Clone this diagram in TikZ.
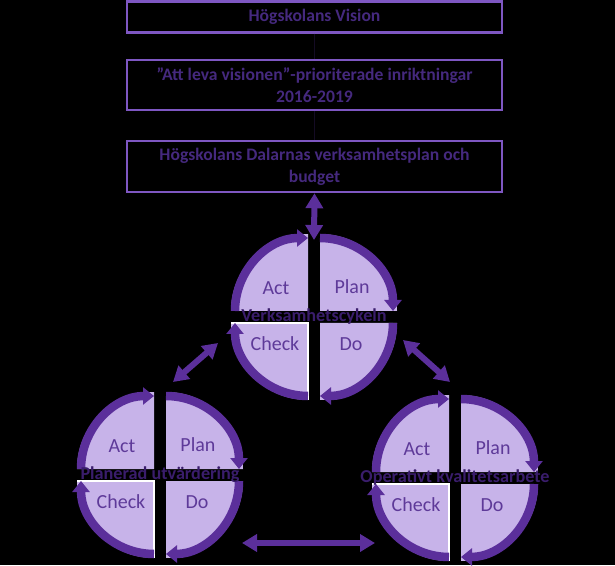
\documentclass[tikz,border=0pt]{standalone}
\usepackage{fontspec}
\setmainfont{Carlito}
\usepackage{tikz}
\usetikzlibrary{calc,arrows.meta}
\definecolor{boxline}{HTML}{7E57C2}
\definecolor{boxtext}{HTML}{45297E}
\definecolor{cyclearc}{HTML}{5B2F9B}
\definecolor{quadfill}{HTML}{C7B3E9}
\definecolor{quadtext}{HTML}{5E3A99}
\definecolor{cyclename}{HTML}{3A1D6C}
\definecolor{faint}{HTML}{140B24}

\begin{document}
\begin{tikzpicture}[x=1pt,y=1pt,
  box/.style={draw=boxline,line width=2.5pt,minimum width=375pt,inner sep=0pt,align=center,
    text=boxtext,font=\bfseries\fontsize{17.6}{22}\selectfont},
  band/.style={draw=cyclearc,line width=8.5pt,-{Triangle[width=17pt,length=11pt]}},
  link/.style={draw=cyclearc,line width=6pt,
    {Triangle[width=17pt,length=15pt]}-{Triangle[width=17pt,length=15pt]}},
  quadlabel/.style={text=quadtext,font=\fontsize{20}{24}\selectfont},
  cyclelabel/.style={text=cyclename,font=\bfseries\fontsize{18.2}{21}\selectfont,inner sep=0pt}]
\useasboundingbox (0,0) rectangle (615,565);
\fill[black] (0,0) rectangle (615,565);
% the three boxes on top
\node[box,minimum height=31pt] (vision) at (314.5,548) {Högskolans Vision};
\node[box,minimum height=50pt] (prio) at (314.5,480) {”Att leva visionen”-prioriterade inriktningar\\2016-2019};
\node[box,minimum height=51pt] (budget) at (314.5,398.5) {Högskolans Dalarnas verksamhetsplan och\\budget};
\draw[faint,line width=1.5pt] (vision) -- (prio);
\draw[faint,line width=1.5pt] (prio) -- (budget);
% centres of the three cycles
\coordinate (vc) at (314,248);
\coordinate (pu) at (160,90);
\coordinate (ok) at (455,87);
\foreach \c/\t in {vc/Verksamhetscykeln,pu/Planerad utvärdering,ok/Operativt kvalitetsarbete}{
  \fill[quadfill] ($(\c)+(-6,6)$) -- ++(-77,0) arc (180:90:77) -- cycle;
  \fill[quadfill] ($(\c)+(6,6)$) -- ++(0,77) arc (90:0:77) -- cycle;
  \fill[quadfill] ($(\c)+(6,-6)$) -- ++(77,0) arc (0:-90:77) -- cycle;
  \fill[quadfill] ($(\c)+(-6,-6)$) -- ++(0,-77) arc (-90:-180:77) -- cycle;
  \draw[white,line width=1.2pt] ($(\c)+(-83,-6)$) -- ($(\c)+(-6,-6)$) -- ($(\c)+(-6,-83)$);
  \draw[band] ($(\c)+(-79,6)$) arc (180:90:73);
  \draw[band] ($(\c)+(6,79)$) arc (90:0:73);
  \draw[band] ($(\c)+(79,-6)$) arc (0:-90:73);
  \draw[band] ($(\c)+(-6,-79)$) arc (-90:-180:73);
  \node[quadlabel] (\c-act) at ($(\c)+(-38,29)$) {Act};
  \node[quadlabel] (\c-plan) at ($(\c)+(38,30)$) {Plan};
  \node[quadlabel] (\c-check) at ($(\c)+(-39,-27)$) {Check};
  \node[quadlabel] (\c-do) at ($(\c)+(37,-27)$) {Do};
  \node[cyclelabel] (\c-name) at (\c) {\t};
}
% arrows between the cycles
\coordinate (vc-top) at (314,325);
\coordinate (vc-pu-a) at (218,222);
\coordinate (vc-pu-b) at (173,183);
\coordinate (vc-ok-a) at (403,225);
\coordinate (vc-ok-b) at (450,183);
\coordinate (pu-ok-a) at (242,22);
\coordinate (pu-ok-b) at (375,22);
\draw[link] (budget.south) -- (vc-top);
\draw[link] (vc-pu-a) -- (vc-pu-b);
\draw[link] (vc-ok-a) -- (vc-ok-b);
\draw[link] (pu-ok-a) -- (pu-ok-b);
\end{tikzpicture}
\end{document}
